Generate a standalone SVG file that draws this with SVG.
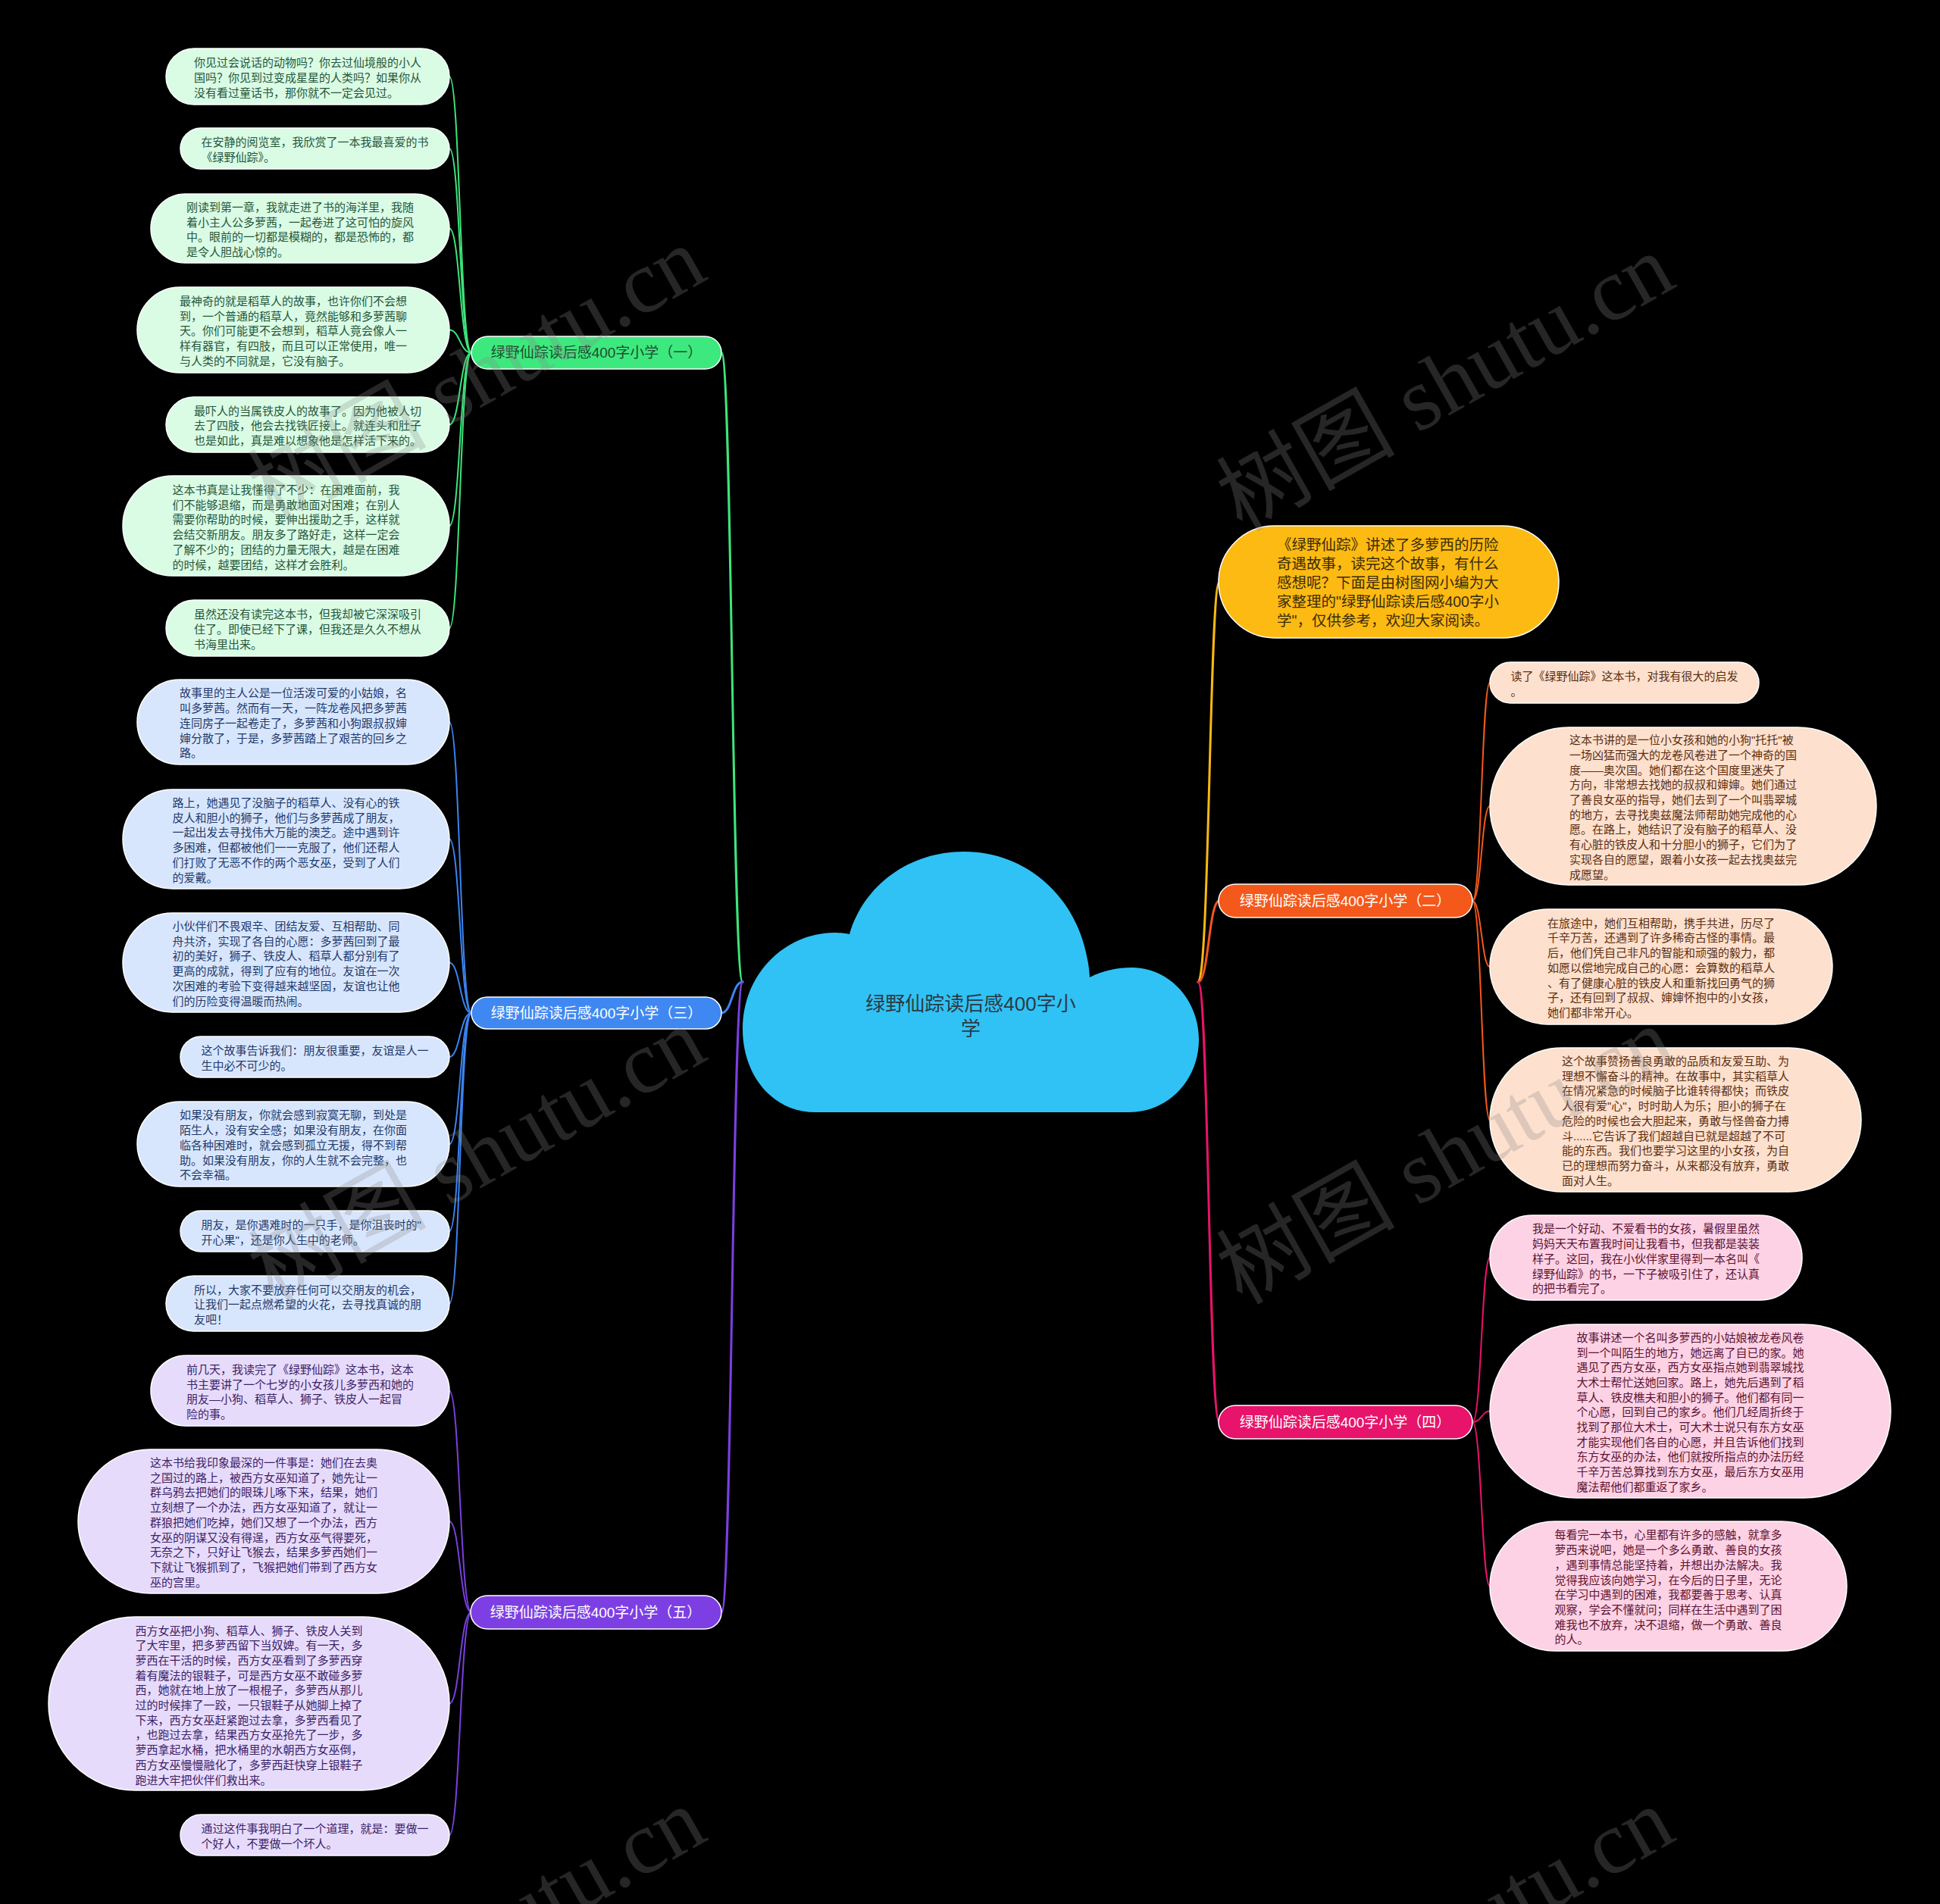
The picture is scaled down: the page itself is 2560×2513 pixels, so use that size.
<svg xmlns="http://www.w3.org/2000/svg" width="2560" height="2513" viewBox="0 0 2560 2513">
<style>
.lt{font-family:"Liberation Sans","Noto Sans CJK SC",sans-serif;font-size:15px}
.bt{font-family:"Liberation Sans","Noto Sans CJK SC",sans-serif;font-size:19px;text-anchor:middle}
.nd{stroke:#ffffff;stroke-width:1.5}
.fg{fill:#dafce5}.fb{fill:#d8e6fd}.fp{fill:#e7dbfc}.fo{fill:#fde0cd}.fk{fill:#fdd2e5}
.tg{fill:#25563a}.tb{fill:#1f3a6b}.tp{fill:#3b2366}.to{fill:#5b2e12}.tk{fill:#5c1231}
.c{fill:none;stroke-linecap:round}
.wm{font-family:"Liberation Serif","Noto Sans CJK SC",serif;font-size:118px;fill:#8a8a8a;fill-opacity:0.28;text-anchor:middle}
</style>
<rect x="0" y="0" width="2560" height="2513" fill="#000000"/>

<g id="connectors">
<path class="c" stroke="#3de57c" stroke-width="3" d="M980 1296 C966 1296 966 465.5 952 465.5"/>
<path class="c" stroke="#3c84f0" stroke-width="3" d="M980 1296 C966 1296 966 1337 952 1337"/>
<path class="c" stroke="#7b3fe0" stroke-width="3" d="M980 1296 C966 1296 966 2128 952 2128"/>
<path class="c" stroke="#f8b814" stroke-width="3" d="M1581 1296 C1596 1296 1596 768 1609 768"/>
<path class="c" stroke="#f4581b" stroke-width="3" d="M1581 1296 C1595 1296 1595 1189 1609 1189"/>
<path class="c" stroke="#e8136b" stroke-width="3" d="M1581 1296 C1595 1296 1595 1877 1609 1877"/>
<g stroke="#3de57c" stroke-width="2" fill="none">
<path d="M622 465.5 C607 465.5 607 101 593 101"/>
<path d="M622 465.5 C607 465.5 607 196 593 196"/>
<path d="M622 465.5 C607 465.5 607 301.5 593 301.5"/>
<path d="M622 465.5 C607 465.5 607 435.5 593 435.5"/>
<path d="M622 465.5 C607 465.5 607 560.5 593 560.5"/>
<path d="M622 465.5 C607 465.5 607 694 593 694"/>
<path d="M622 465.5 C607 465.5 607 829 593 829"/>
</g>
<g stroke="#3c84f0" stroke-width="2" fill="none">
<path d="M622 1337 C607 1337 607 953 593 953"/>
<path d="M622 1337 C607 1337 607 1107.5 593 1107.5"/>
<path d="M622 1337 C607 1337 607 1270.5 593 1270.5"/>
<path d="M622 1337 C607 1337 607 1395 593 1395"/>
<path d="M622 1337 C607 1337 607 1510 593 1510"/>
<path d="M622 1337 C607 1337 607 1625 593 1625"/>
<path d="M622 1337 C607 1337 607 1720.5 593 1720.5"/>
</g>
<g stroke="#7b3fe0" stroke-width="2" fill="none">
<path d="M622 2128 C607 2128 607 1835.5 593 1835.5"/>
<path d="M622 2128 C607 2128 607 2008 593 2008"/>
<path d="M622 2128 C607 2128 607 2248.5 593 2248.5"/>
<path d="M622 2128 C607 2128 607 2422 593 2422"/>
</g>
<g stroke="#f4581b" stroke-width="2" fill="none">
<path d="M1943 1189 C1955 1189 1955 901 1966 901"/>
<path d="M1943 1189 C1955 1189 1955 1064 1966 1064"/>
<path d="M1943 1189 C1955 1189 1955 1276 1966 1276"/>
<path d="M1943 1189 C1955 1189 1955 1478 1966 1478"/>
</g>
<g stroke="#e8136b" stroke-width="2" fill="none">
<path d="M1943 1877 C1955 1877 1955 1660 1966 1660"/>
<path d="M1943 1877 C1955 1877 1955 1862.5 1966 1862.5"/>
<path d="M1943 1877 C1955 1877 1955 2093.5 1966 2093.5"/>
</g>
</g>

<g id="center">
<path fill="#30c2f5" d="M1076 1468 C1020 1468 980 1420 980 1358 C980 1286 1035 1232 1100 1231 C1110 1231 1118 1232 1121 1233 C1140 1168 1200 1124 1272 1124 C1360 1124 1432 1192 1438 1290 C1455 1281 1474 1277 1494 1277 C1543 1277 1582 1320 1582 1372 C1582 1425 1542 1468 1490 1468 Z"/>
<text x="1281" y="1334" font-family="Liberation Sans,Noto Sans CJK SC,sans-serif" font-size="26" fill="#2b3a44" text-anchor="middle">绿野仙踪读后感400字小</text>
<text x="1281" y="1367" font-family="Liberation Sans,Noto Sans CJK SC,sans-serif" font-size="26" fill="#2b3a44" text-anchor="middle">学</text>
</g>

<g id="b1"><rect class="nd" fill="#3de97e" x="622" y="444" width="330" height="43" rx="21.5"/><text class="bt" fill="#1d4d2f" x="787" y="472">绿野仙踪读后感400字小学（一）</text></g>
<g id="b3"><rect class="nd" fill="#3f88f2" x="622" y="1316" width="330" height="42" rx="21"/><text class="bt" fill="#ffffff" x="787" y="1343.6">绿野仙踪读后感400字小学（三）</text></g>
<g id="b5"><rect class="nd" fill="#7d3fe3" x="621" y="2106" width="331" height="44" rx="22"/><text class="bt" fill="#ffffff" x="786" y="2134.6">绿野仙踪读后感400字小学（五）</text></g>
<g id="b2"><rect class="nd" fill="#f4581b" x="1608" y="1167" width="335" height="44" rx="22"/><text class="bt" fill="#ffffff" x="1775" y="1195.6">绿野仙踪读后感400字小学（二）</text></g>
<g id="b4"><rect class="nd" fill="#e8136b" x="1608" y="1855" width="335" height="44" rx="22"/><text class="bt" fill="#ffffff" x="1775" y="1883.6">绿野仙踪读后感400字小学（四）</text></g>

<g id="intro"><rect class="nd" fill="#fdba12" x="1608" y="694" width="449" height="148" rx="74"/>
<text x="1685" y="726.3" font-family="Liberation Sans,Noto Sans CJK SC,sans-serif" font-size="19.5" fill="#3a2c08"><tspan x="1685">《绿野仙踪》讲述了多萝西的历险</tspan><tspan x="1685" dy="25">奇遇故事，读完这个故事，有什么</tspan><tspan x="1685" dy="25">感想呢？下面是由树图网小编为大</tspan><tspan x="1685" dy="25">家整理的"绿野仙踪读后感400字小</tspan><tspan x="1685" dy="25">学"，仅供参考，欢迎大家阅读。</tspan></text></g>

<g id="a1"><rect class="nd fg" x="219" y="64" width="374" height="74" rx="37"/><text class="lt tg" x="256" y="88.1"><tspan x="256">你见过会说话的动物吗？你去过仙境般的小人</tspan><tspan x="256" dy="19.7">国吗？你见到过变成星星的人类吗？如果你从</tspan><tspan x="256" dy="19.7">没有看过童话书，那你就不一定会见过。</tspan></text></g>
<g id="a2"><rect class="nd fg" x="238" y="169" width="355" height="54" rx="27"/><text class="lt tg" x="265.5" y="193"><tspan x="265.5">在安静的阅览室，我欣赏了一本我最喜爱的书</tspan><tspan x="265.5" dy="19.7">《绿野仙踪》。</tspan></text></g>
<g id="a3"><rect class="nd fg" x="199" y="256" width="394" height="91" rx="45.5"/><text class="lt tg" x="246" y="278.8"><tspan x="246">刚读到第一章，我就走进了书的海洋里，我随</tspan><tspan x="246" dy="19.7">着小主人公多萝茜，一起卷进了这可怕的旋风</tspan><tspan x="246" dy="19.7">中。眼前的一切都是模糊的，都是恐怖的，都</tspan><tspan x="246" dy="19.7">是令人胆战心惊的。</tspan></text></g>
<g id="a4"><rect class="nd fg" x="181" y="379" width="412" height="113" rx="56.5"/><text class="lt tg" x="237" y="402.9"><tspan x="237">最神奇的就是稻草人的故事，也许你们不会想</tspan><tspan x="237" dy="19.7">到，一个普通的稻草人，竟然能够和多萝茜聊</tspan><tspan x="237" dy="19.7">天。你们可能更不会想到，稻草人竟会像人一</tspan><tspan x="237" dy="19.7">样有器官，有四肢，而且可以正常使用，唯一</tspan><tspan x="237" dy="19.7">与人类的不同就是，它没有脑子。</tspan></text></g>
<g id="a5"><rect class="nd fg" x="219" y="524" width="374" height="73" rx="36.5"/><text class="lt tg" x="256" y="547.6"><tspan x="256">最吓人的当属铁皮人的故事了。因为他被人切</tspan><tspan x="256" dy="19.7">去了四肢，他会去找铁匠接上。就连头和肚子</tspan><tspan x="256" dy="19.7">也是如此，真是难以想象他是怎样活下来的。</tspan></text></g>
<g id="a6"><rect class="nd fg" x="162" y="628" width="431" height="132" rx="66"/><text class="lt tg" x="227.5" y="652"><tspan x="227.5">这本书真是让我懂得了不少：在困难面前，我</tspan><tspan x="227.5" dy="19.7">们不能够退缩，而是勇敢地面对困难；在别人</tspan><tspan x="227.5" dy="19.7">需要你帮助的时候，要伸出援助之手，这样就</tspan><tspan x="227.5" dy="19.7">会结交新朋友。朋友多了路好走，这样一定会</tspan><tspan x="227.5" dy="19.7">了解不少的；团结的力量无限大，越是在困难</tspan><tspan x="227.5" dy="19.7">的时候，越要团结，这样才会胜利。</tspan></text></g>
<g id="a7"><rect class="nd fg" x="219" y="792" width="374" height="74" rx="37"/><text class="lt tg" x="256" y="816.1"><tspan x="256">虽然还没有读完这本书，但我却被它深深吸引</tspan><tspan x="256" dy="19.7">住了。即使已经下了课，但我还是久久不想从</tspan><tspan x="256" dy="19.7">书海里出来。</tspan></text></g>

<g id="c31"><rect class="nd fb" x="181" y="897" width="412" height="112" rx="56"/><text class="lt tb" x="237" y="920.4"><tspan x="237">故事里的主人公是一位活泼可爱的小姑娘，名</tspan><tspan x="237" dy="19.7">叫多萝茜。然而有一天，一阵龙卷风把多萝茜</tspan><tspan x="237" dy="19.7">连同房子一起卷走了，多萝茜和小狗跟叔叔婶</tspan><tspan x="237" dy="19.7">婶分散了，于是，多萝茜踏上了艰苦的回乡之</tspan><tspan x="237" dy="19.7">路。</tspan></text></g>
<g id="c32"><rect class="nd fb" x="162" y="1042" width="431" height="131" rx="65.5"/><text class="lt tb" x="227.5" y="1065"><tspan x="227.5">路上，她遇见了没脑子的稻草人、没有心的铁</tspan><tspan x="227.5" dy="19.7">皮人和胆小的狮子，他们与多萝茜成了朋友，</tspan><tspan x="227.5" dy="19.7">一起出发去寻找伟大万能的澳芝。途中遇到许</tspan><tspan x="227.5" dy="19.7">多困难，但都被他们一一克服了，他们还帮人</tspan><tspan x="227.5" dy="19.7">们打败了无恶不作的两个恶女巫，受到了人们</tspan><tspan x="227.5" dy="19.7">的爱戴。</tspan></text></g>
<g id="c33"><rect class="nd fb" x="162" y="1205" width="431" height="131" rx="65.5"/><text class="lt tb" x="227.5" y="1228"><tspan x="227.5">小伙伴们不畏艰辛、团结友爱、互相帮助、同</tspan><tspan x="227.5" dy="19.7">舟共济，实现了各自的心愿：多萝茜回到了最</tspan><tspan x="227.5" dy="19.7">初的美好，狮子、铁皮人、稻草人都分别有了</tspan><tspan x="227.5" dy="19.7">更高的成就，得到了应有的地位。友谊在一次</tspan><tspan x="227.5" dy="19.7">次困难的考验下变得越来越坚固，友谊也让他</tspan><tspan x="227.5" dy="19.7">们的历险变得温暖而热闹。</tspan></text></g>
<g id="c34"><rect class="nd fb" x="238" y="1368" width="355" height="54" rx="27"/><text class="lt tb" x="265.5" y="1392"><tspan x="265.5">这个故事告诉我们：朋友很重要，友谊是人一</tspan><tspan x="265.5" dy="19.7">生中必不可少的。</tspan></text></g>
<g id="c35"><rect class="nd fb" x="181" y="1454" width="412" height="112" rx="56"/><text class="lt tb" x="237" y="1477.4"><tspan x="237">如果没有朋友，你就会感到寂寞无聊，到处是</tspan><tspan x="237" dy="19.7">陌生人，没有安全感；如果没有朋友，在你面</tspan><tspan x="237" dy="19.7">临各种困难时，就会感到孤立无援，得不到帮</tspan><tspan x="237" dy="19.7">助。如果没有朋友，你的人生就不会完整，也</tspan><tspan x="237" dy="19.7">不会幸福。</tspan></text></g>
<g id="c36"><rect class="nd fb" x="238" y="1598" width="355" height="54" rx="27"/><text class="lt tb" x="265.5" y="1622"><tspan x="265.5">朋友，是你遇难时的一只手，是你沮丧时的"</tspan><tspan x="265.5" dy="19.7">开心果"，还是你人生中的老师。</tspan></text></g>
<g id="c37"><rect class="nd fb" x="219" y="1684" width="374" height="73" rx="36.5"/><text class="lt tb" x="256" y="1707.6"><tspan x="256">所以，大家不要放弃任何可以交朋友的机会，</tspan><tspan x="256" dy="19.7">让我们一起点燃希望的火花，去寻找真诚的朋</tspan><tspan x="256" dy="19.7">友吧！</tspan></text></g>

<g id="c51"><rect class="nd fp" x="199" y="1789" width="394" height="93" rx="46.5"/><text class="lt tp" x="246" y="1812.8"><tspan x="246">前几天，我读完了《绿野仙踪》这本书，这本</tspan><tspan x="246" dy="19.7">书主要讲了一个七岁的小女孩儿多萝西和她的</tspan><tspan x="246" dy="19.7">朋友—小狗、稻草人、狮子、铁皮人一起冒</tspan><tspan x="246" dy="19.7">险的事。</tspan></text></g>
<g id="c52"><rect class="nd fp" x="103" y="1913" width="490" height="190" rx="95"/><text class="lt tp" x="198" y="1936"><tspan x="198">这本书给我印象最深的一件事是：她们在去奥</tspan><tspan x="198" dy="19.7">之国过的路上，被西方女巫知道了，她先让一</tspan><tspan x="198" dy="19.7">群乌鸦去把她们的眼珠儿啄下来，结果，她们</tspan><tspan x="198" dy="19.7">立刻想了一个办法，西方女巫知道了，就让一</tspan><tspan x="198" dy="19.7">群狼把她们吃掉，她们又想了一个办法，西方</tspan><tspan x="198" dy="19.7">女巫的阴谋又没有得逞，西方女巫气得要死，</tspan><tspan x="198" dy="19.7">无奈之下，只好让飞猴去，结果多萝西她们一</tspan><tspan x="198" dy="19.7">下就让飞猴抓到了，飞猴把她们带到了西方女</tspan><tspan x="198" dy="19.7">巫的宫里。</tspan></text></g>
<g id="c53"><rect class="nd fp" x="64" y="2134" width="529" height="229" rx="114.5"/><text class="lt tp" x="178.5" y="2157.5"><tspan x="178.5">西方女巫把小狗、稻草人、狮子、铁皮人关到</tspan><tspan x="178.5" dy="19.7">了大牢里，把多萝西留下当奴婢。有一天，多</tspan><tspan x="178.5" dy="19.7">萝西在干活的时候，西方女巫看到了多萝西穿</tspan><tspan x="178.5" dy="19.7">着有魔法的银鞋子，可是西方女巫不敢碰多萝</tspan><tspan x="178.5" dy="19.7">西，她就在地上放了一根棍子，多萝西从那儿</tspan><tspan x="178.5" dy="19.7">过的时候摔了一跤，一只银鞋子从她脚上掉了</tspan><tspan x="178.5" dy="19.7">下来，西方女巫赶紧跑过去拿，多萝西看见了</tspan><tspan x="178.5" dy="19.7">，也跑过去拿，结果西方女巫抢先了一步，多</tspan><tspan x="178.5" dy="19.7">萝西拿起水桶，把水桶里的水朝西方女巫倒，</tspan><tspan x="178.5" dy="19.7">西方女巫慢慢融化了，多萝西赶快穿上银鞋子</tspan><tspan x="178.5" dy="19.7">跑进大牢把伙伴们救出来。</tspan></text></g>
<g id="c54"><rect class="nd fp" x="238" y="2395" width="355" height="54" rx="27"/><text class="lt tp" x="265.5" y="2419"><tspan x="265.5">通过这件事我明白了一个道理，就是：要做一</tspan><tspan x="265.5" dy="19.7">个好人，不要做一个坏人。</tspan></text></g>

<g id="d1"><rect class="nd fo" x="1966" y="874" width="355" height="54" rx="27"/><text class="lt to" x="1993.5" y="898"><tspan x="1993.5">读了《绿野仙踪》这本书，对我有很大的启发</tspan><tspan x="1993.5" dy="19.7">。</tspan></text></g>
<g id="d2"><rect class="nd fo" x="1966" y="960" width="510" height="208" rx="104"/><text class="lt to" x="2071" y="982.2"><tspan x="2071">这本书讲的是一位小女孩和她的小狗"托托"被</tspan><tspan x="2071" dy="19.7">一场凶猛而强大的龙卷风卷进了一个神奇的国</tspan><tspan x="2071" dy="19.7">度——奥次国。她们都在这个国度里迷失了</tspan><tspan x="2071" dy="19.7">方向，非常想去找她的叔叔和婶婶。她们通过</tspan><tspan x="2071" dy="19.7">了善良女巫的指导，她们去到了一个叫翡翠城</tspan><tspan x="2071" dy="19.7">的地方，去寻找奥兹魔法师帮助她完成他的心</tspan><tspan x="2071" dy="19.7">愿。在路上，她结识了没有脑子的稻草人、没</tspan><tspan x="2071" dy="19.7">有心脏的铁皮人和十分胆小的狮子，它们为了</tspan><tspan x="2071" dy="19.7">实现各自的愿望，跟着小女孩一起去找奥兹完</tspan><tspan x="2071" dy="19.7">成愿望。</tspan></text></g>
<g id="d3"><rect class="nd fo" x="1966" y="1200" width="452" height="152" rx="76"/><text class="lt to" x="2042" y="1223.7"><tspan x="2042">在旅途中，她们互相帮助，携手共进，历尽了</tspan><tspan x="2042" dy="19.7">千辛万苦，还遇到了许多稀奇古怪的事情。最</tspan><tspan x="2042" dy="19.7">后，他们凭自己非凡的智能和顽强的毅力，都</tspan><tspan x="2042" dy="19.7">如愿以偿地完成自己的心愿：会算数的稻草人</tspan><tspan x="2042" dy="19.7">、有了健康心脏的铁皮人和重新找回勇气的狮</tspan><tspan x="2042" dy="19.7">子，还有回到了叔叔、婶婶怀抱中的小女孩，</tspan><tspan x="2042" dy="19.7">她们都非常开心。</tspan></text></g>
<g id="d4"><rect class="nd fo" x="1966" y="1383" width="490" height="190" rx="95"/><text class="lt to" x="2061" y="1406"><tspan x="2061">这个故事赞扬善良勇敢的品质和友爱互助、为</tspan><tspan x="2061" dy="19.7">理想不懈奋斗的精神。在故事中，其实稻草人</tspan><tspan x="2061" dy="19.7">在情况紧急的时候脑子比谁转得都快；而铁皮</tspan><tspan x="2061" dy="19.7">人很有爱"心"，时时助人为乐；胆小的狮子在</tspan><tspan x="2061" dy="19.7">危险的时候也会大胆起来，勇敢与怪兽奋力搏</tspan><tspan x="2061" dy="19.7">斗......它告诉了我们超越自已就是超越了不可</tspan><tspan x="2061" dy="19.7">能的东西。我们也要学习这里的小女孩，为自</tspan><tspan x="2061" dy="19.7">已的理想而努力奋斗，从来都没有放弃，勇敢</tspan><tspan x="2061" dy="19.7">面对人生。</tspan></text></g>

<g id="e1"><rect class="nd fk" x="1966" y="1604" width="412" height="112" rx="56"/><text class="lt tk" x="2022" y="1627.4"><tspan x="2022">我是一个好动、不爱看书的女孩，暑假里虽然</tspan><tspan x="2022" dy="19.7">妈妈天天布置我时间让我看书，但我都是装装</tspan><tspan x="2022" dy="19.7">样子。这回，我在小伙伴家里得到一本名叫《</tspan><tspan x="2022" dy="19.7">绿野仙踪》的书，一下子被吸引住了，还认真</tspan><tspan x="2022" dy="19.7">的把书看完了。</tspan></text></g>
<g id="e2"><rect class="nd fk" x="1966" y="1748" width="529" height="229" rx="114.5"/><text class="lt tk" x="2080.5" y="1770.8"><tspan x="2080.5">故事讲述一个名叫多萝西的小姑娘被龙卷风卷</tspan><tspan x="2080.5" dy="19.7">到一个叫陌生的地方，她远离了自已的家。她</tspan><tspan x="2080.5" dy="19.7">遇见了西方女巫，西方女巫指点她到翡翠城找</tspan><tspan x="2080.5" dy="19.7">大术士帮忙送她回家。路上，她先后遇到了稻</tspan><tspan x="2080.5" dy="19.7">草人、铁皮樵夫和胆小的狮子。他们都有同一</tspan><tspan x="2080.5" dy="19.7">个心愿，回到自己的家乡。他们几经周折终于</tspan><tspan x="2080.5" dy="19.7">找到了那位大术士，可大术士说只有东方女巫</tspan><tspan x="2080.5" dy="19.7">才能实现他们各自的心愿，并且告诉他们找到</tspan><tspan x="2080.5" dy="19.7">东方女巫的办法，他们就按所指点的办法历经</tspan><tspan x="2080.5" dy="19.7">千辛万苦总算找到东方女巫，最后东方女巫用</tspan><tspan x="2080.5" dy="19.7">魔法帮他们都重返了家乡。</tspan></text></g>
<g id="e3"><rect class="nd fk" x="1966" y="2008" width="471" height="171" rx="85.5"/><text class="lt tk" x="2051.5" y="2031.4"><tspan x="2051.5">每看完一本书，心里都有许多的感触，就拿多</tspan><tspan x="2051.5" dy="19.7">萝西来说吧，她是一个多么勇敢、善良的女孩</tspan><tspan x="2051.5" dy="19.7">，遇到事情总能坚持着，并想出办法解决。我</tspan><tspan x="2051.5" dy="19.7">觉得我应该向她学习，在今后的日子里，无论</tspan><tspan x="2051.5" dy="19.7">在学习中遇到的困难，我都要善于思考、认真</tspan><tspan x="2051.5" dy="19.7">观察，学会不懂就问；同样在生活中遇到了困</tspan><tspan x="2051.5" dy="19.7">难我也不放弃，决不退缩，做一个勇敢、善良</tspan><tspan x="2051.5" dy="19.7">的人。</tspan></text></g>

<g id="watermarks">
<text class="wm" transform="translate(649 530) rotate(-29.5)">树图 shutu.cn</text>
<text class="wm" transform="translate(1927 540) rotate(-29.5)">树图 shutu.cn</text>
<text class="wm" transform="translate(649 1560) rotate(-29.5)">树图 shutu.cn</text>
<text class="wm" transform="translate(1927 1560) rotate(-29.5)">树图 shutu.cn</text>
<text class="wm" transform="translate(649 2590) rotate(-29.5)">树图 shutu.cn</text>
<text class="wm" transform="translate(1927 2590) rotate(-29.5)">树图 shutu.cn</text>
</g>
</svg>
